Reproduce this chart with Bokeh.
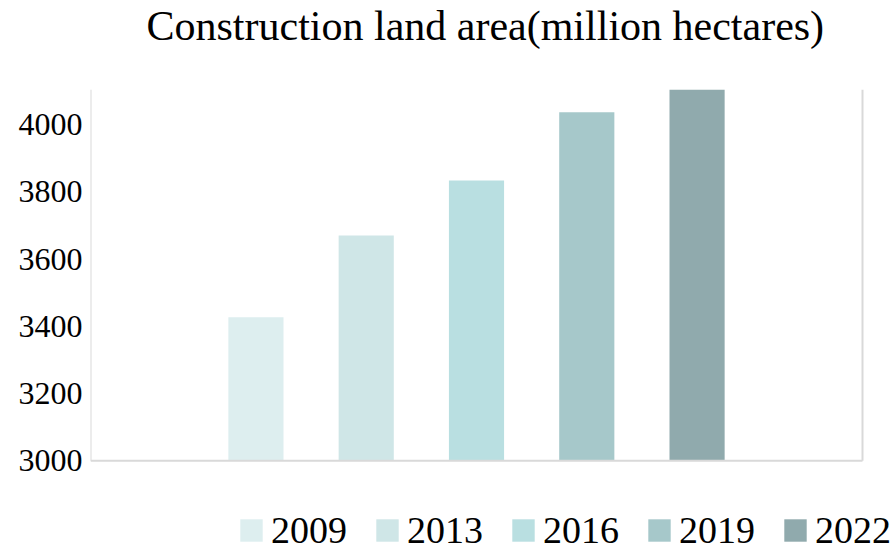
from bokeh.plotting import figure
from bokeh.models import (ColumnDataSource, Range1d, FixedTicker,
                          Legend, LegendItem, Title)
from bokeh.embed import file_html
from bokeh.resources import INLINE

# Data
years = ["2009", "2013", "2016", "2019", "2022"]
values = [3427, 3670, 3834, 4037, 4105]
colors = ["#DDEEEF", "#CFE6E7", "#B9DFE1", "#A6C8CA", "#90AAAD"]
y_ticks = [3000, 3200, 3400, 3600, 3800, 4000]
y_min, y_max = 3000, 4105

FONT = "Liberation Serif"
LINE = "#D9D9D9"

# plot-area geometry (pixels): chart box 772 x 372, legend strip 86 below, 33 right
box_w, box_h, strip_h, strip_w = 772, 372, 86, 33

slots = list(range(len(years)))  # one slot per year, in order
x_start, x_end = -1.5, len(years) + 0.5
x_view_end = x_end + (x_end - x_start) * strip_w / box_w
y_view_start = y_min - (y_max - y_min) * strip_h / box_h

src = ColumnDataSource(data=dict(x=slots, year=years, value=values, color=colors,
                                 base=[y_min] * len(years)))

p = figure(width=895, height=546, output_backend="svg", toolbar_location=None,
           x_range=Range1d(x_start, x_view_end),
           y_range=Range1d(y_view_start, y_max),
           min_border_left=90, min_border_right=0, min_border_top=88, min_border_bottom=0)

r = p.vbar(x="x", top="value", bottom="base", width=0.5, source=src,
           fill_color="color", line_color=None)

# chart-box lines: left, bottom, right (no top line)
p.segment(x0=[x_start, x_start, x_end], y0=[y_min, y_min, y_min],
          x1=[x_start, x_end, x_end], y1=[y_max, y_min, y_max],
          line_color=LINE, line_width=2)

p.title.text = "Construction land area(million hectares)"
p.title.text_font = FONT
p.title.text_font_size = "42px"
p.title.text_font_style = "normal"
p.title.text_color = "#000000"
p.title.align = "left"
p.title.offset = 56
p.title.standoff = 0

# spacer between the title and the plot area
p.add_layout(Title(text=" ", text_font_size="10px", standoff=28), "above")

p.outline_line_color = None
p.background_fill_color = "white"
p.border_fill_color = "white"
p.xgrid.visible = False
p.ygrid.visible = False

ya = p.yaxis[0]
ya.ticker = FixedTicker(ticks=y_ticks)
ya.major_label_text_font = FONT
ya.major_label_text_font_size = "32px"
ya.major_label_text_color = "#000000"
ya.major_tick_line_color = None
ya.major_tick_out = 0
ya.major_tick_in = 0
ya.minor_tick_line_color = None
ya.axis_line_color = None
ya.major_label_standoff = 8

p.xaxis.visible = False

items = [LegendItem(label=y, renderers=[r], index=i) for i, y in enumerate(years)]
leg = Legend(items=items, orientation="horizontal", location=(147, -6),
             label_text_font=FONT, label_text_font_size="38px", label_text_color="#000000",
             glyph_width=28, glyph_height=28, label_standoff=6, spacing=26,
             padding=0, margin=0, border_line_color=None, background_fill_alpha=0)
p.add_layout(leg, "center")

open("out.html", "w").write(file_html(p, INLINE))
